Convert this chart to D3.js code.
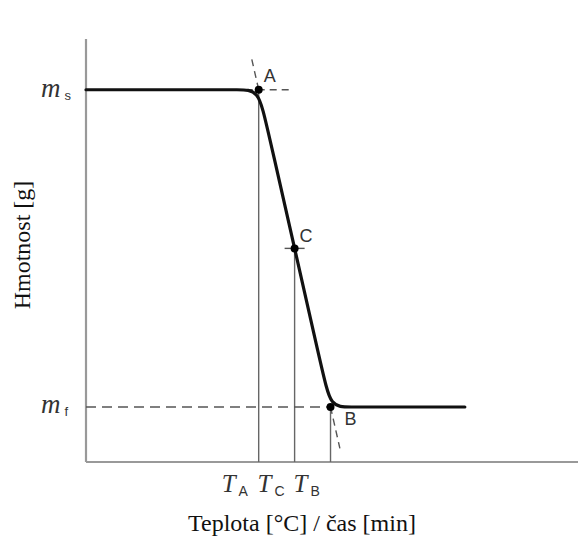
<!DOCTYPE html>
<html>
<head>
<meta charset="utf-8">
<script src="https://cdn.jsdelivr.net/npm/d3@7"></script>
<style>
  body { margin: 0; background: #fff; }
  svg { display: block; }
</style>
</head>
<body>
<svg id="chart" width="581" height="541"></svg>
<script>
// control points of the mass curve (x = teplota, y = hmotnost), smoothed with curveBasis
const curveX = [0, 25, 31, 35.1, 36.6, 48.2, 49.7, 53.5, 60, 77];
const curveY = [88, 88, 88, 88, 80.3, 20.7, 13, 13, 13, 13];
// characteristic points
const pointNames = ['A', 'C', 'B'];
const pointX = [35.1, 42.4, 49.7];
const pointY = [88, 50.5, 13];
const tickLabels = ['A', 'C', 'B'];
const massS = 88, massF = 13;

const svg = d3.select('#chart');
const x = d3.scaleLinear().domain([0, 100]).range([86, 578]);
const y = d3.scaleLinear().domain([0, 100]).range([462, 39]);

const axisColor = '#999';
const serif = '"Liberation Serif", "Times New Roman", serif';
const sans = '"Liberation Sans", Arial, sans-serif';

// axes
svg.append('line').attr('x1', x(0)).attr('x2', x(0)).attr('y1', y(100)).attr('y2', y(0))
  .attr('stroke', axisColor).attr('stroke-width', 2.2);
svg.append('line').attr('x1', x(0)).attr('x2', x(100)).attr('y1', y(0)).attr('y2', y(0))
  .attr('stroke', axisColor).attr('stroke-width', 2.2);

// vertical drop lines to T_A, T_C, T_B
svg.selectAll('.drop').data(pointX).enter().append('line')
  .attr('x1', d => x(d)).attr('x2', d => x(d))
  .attr('y1', (d, i) => y(pointY[i])).attr('y2', y(0))
  .attr('stroke', '#666').attr('stroke-width', 1.4);

// dashed helper lines (tangents at A and B)
const slope = (pointY[2] - pointY[0]) / (pointX[2] - pointX[0]);
const dashed = [
  [[x(0), y(massF)], [x(pointX[2]), y(massF)]],
  [[x(pointX[0]) - 13, y(massS)], [x(pointX[0]) + 34, y(massS)]],
  [[x(pointX[0] - 1.4), y(massS - slope * 1.4)], [x(pointX[0]), y(massS)]],
  [[x(pointX[2]), y(massF)], [x(pointX[2] + 1.9), y(massF + slope * 1.9)]]
];
svg.selectAll('.dash').data(dashed).enter().append('line')
  .attr('x1', d => d[0][0]).attr('y1', d => d[0][1])
  .attr('x2', d => d[1][0]).attr('y2', d => d[1][1])
  .attr('stroke', '#555').attr('stroke-width', 1.4)
  .attr('stroke-dasharray', (d, i) => i === 0 ? '10,6' : '7,5');

// short tick at C
svg.append('line')
  .attr('x1', x(pointX[1]) - 10).attr('x2', x(pointX[1]) + 10)
  .attr('y1', y(pointY[1])).attr('y2', y(pointY[1]))
  .attr('stroke', '#555').attr('stroke-width', 1.4);

// the curve
const line = d3.line().x(d => x(d[0])).y(d => y(d[1])).curve(d3.curveBasis);
svg.append('path')
  .datum(curveX.map((v, i) => [v, curveY[i]]))
  .attr('d', line)
  .attr('fill', 'none').attr('stroke', '#111').attr('stroke-width', 3.2)
  .attr('stroke-linecap', 'round');

// points
svg.selectAll('.pt').data(pointX).enter().append('circle')
  .attr('cx', d => x(d)).attr('cy', (d, i) => y(pointY[i])).attr('r', 4)
  .attr('fill', '#000');

const labelOff = { A: [5, -8], C: [5, -6], B: [14, 18] };
svg.selectAll('.plab').data(pointNames).enter().append('text')
  .attr('x', (d, i) => x(pointX[i]) + labelOff[d][0])
  .attr('y', (d, i) => y(pointY[i]) + labelOff[d][1])
  .attr('font-family', sans).attr('font-size', 18).attr('fill', '#333')
  .text(d => d);

// m_s, m_f labels
function mLabel(yy, sub) {
  const t = svg.append('text').attr('x', 41).attr('y', yy)
    .attr('font-family', serif).attr('font-size', 27).attr('fill', '#333');
  t.append('tspan').attr('font-style', 'italic').text('m');
  t.append('tspan').attr('font-family', sans).attr('font-size', 13).attr('dx', 4).attr('dy', 3).text(sub);
}
mLabel(y(massS) + 7, 's');
mLabel(y(massF) + 6, 'f');

// T labels
svg.selectAll('.tlab').data(pointX).enter().append('text')
  .attr('x', d => x(d) - 37)
  .attr('y', 492)
  .attr('font-family', serif).attr('font-size', 25).attr('fill', '#333')
  .each(function (d, i) {
    const t = d3.select(this);
    t.append('tspan').attr('font-style', 'italic').text('T');
    t.append('tspan').attr('font-family', sans).attr('font-size', 14).attr('dx', 3).attr('dy', 4).text(tickLabels[i]);
  });

// axis titles
svg.append('text').attr('x', 302).attr('y', 531).attr('text-anchor', 'middle')
  .attr('font-family', serif).attr('font-size', 24).attr('fill', '#111')
  .text('Teplota [°C] / čas [min]');
svg.append('text').attr('transform', 'translate(30,245) rotate(-90)').attr('text-anchor', 'middle')
  .attr('font-family', serif).attr('font-size', 24).attr('fill', '#111')
  .text('Hmotnost [g]');
</script>
</body>
</html>
